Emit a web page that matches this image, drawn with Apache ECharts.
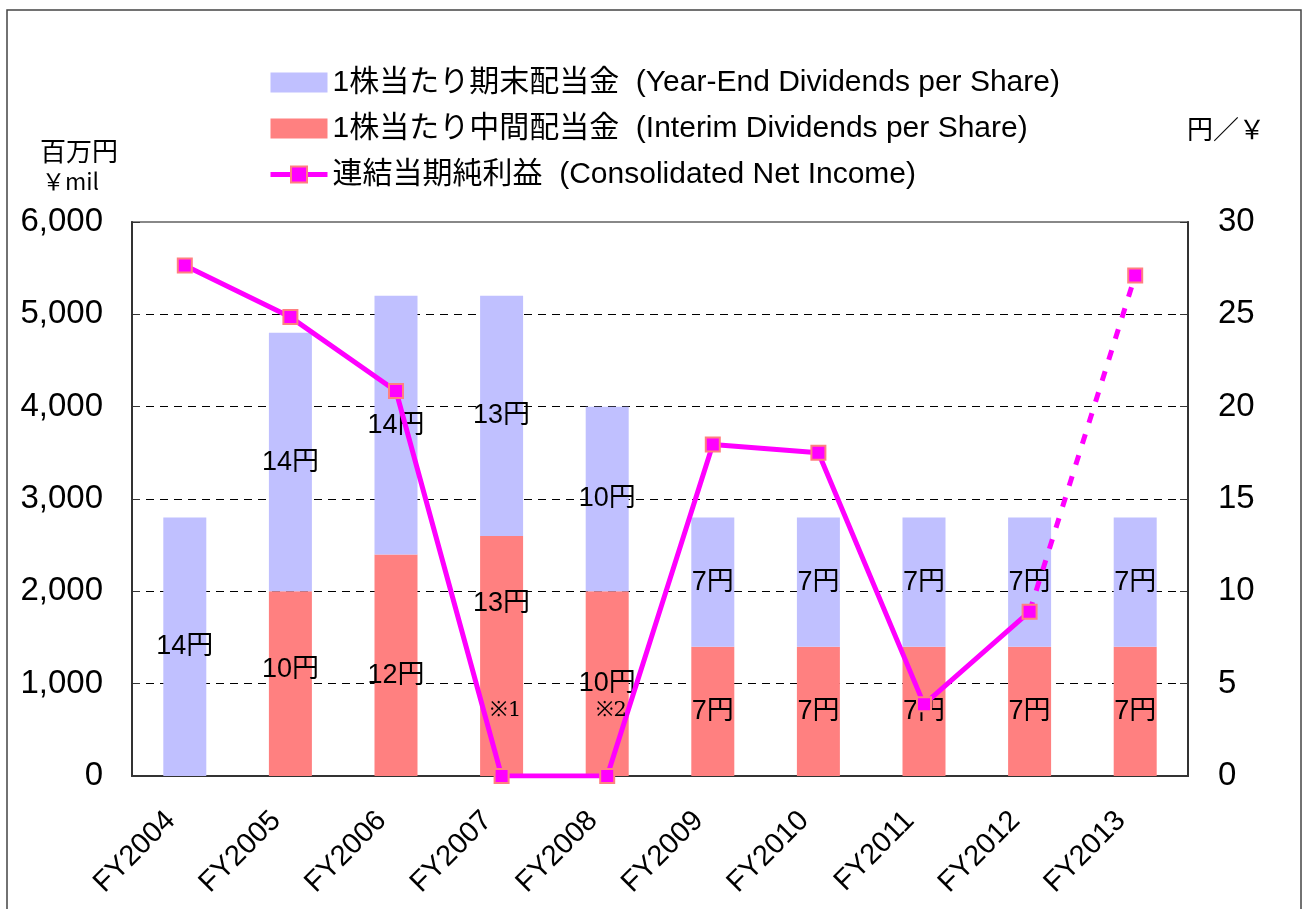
<!DOCTYPE html>
<html>
<head>
<meta charset="utf-8">
<script src="https://cdn.jsdelivr.net/npm/echarts@6/dist/echarts.min.js"></script>
<style>
  html, body { margin: 0; padding: 0; background: #fff; }
  #chart { width: 1304px; height: 909px; }
</style>
</head>
<body>
<div id="chart"></div>
<script>
const years = ["FY2004", "FY2005", "FY2006", "FY2007", "FY2008", "FY2009", "FY2010", "FY2011", "FY2012", "FY2013"];
// yen per share
const interimDiv = ["-", 10, 12, 13, 10, 7, 7, 7, 7, 7];
const yearEndDiv = [14, 14, 14, 13, 10, 7, 7, 7, 7, 7];
// million yen
const netIncome = [5530, 4970, 4170, 0, 0, 3590, 3500, 776, 1780, "-"];
const forecastIncome = ["-", "-", "-", "-", "-", "-", "-", "-", 1780, 5420];
const notes = ["", "", "", "※1", "※2", "", "", "", "", ""];
const leftTicks = [0, 1000, 2000, 3000, 4000, 5000, 6000];
const rightTicks = [0, 5, 10, 15, 20, 25, 30];

// small vertical nudges of some interim labels, as in the original
const interimLabelShift = [0, -14, 10, -52, 0, 0, 0, 0, 0, 0];

const nameYearEnd = "1株当たり期末配当金  (Year-End Dividends per Share)";
const nameInterim = "1株当たり中間配当金  (Interim Dividends per Share)";
const nameIncome = "連結当期純利益  (Consolidated Net Income)";

const FONT = '"Liberation Sans", "Noto Sans CJK JP", sans-serif';

const chart = echarts.init(document.getElementById("chart"));

const barLabel = {
  show: true,
  position: "inside",
  color: "#000",
  fontSize: 27,
  fontFamily: FONT,
  formatter: (p) => (p.value === "-" || p.value == null ? "" : p.value + "円"),
};

chart.setOption({
  backgroundColor: "#fff",
  animation: false,
  textStyle: { fontFamily: FONT },
  graphic: [
    {
      type: "rect",
      shape: { x: 7, y: 10, width: 1294, height: 940 },
      style: { fill: "none", stroke: "#444", lineWidth: 1.5 },
      silent: true,
    },
    {
      type: "text",
      left: 40,
      top: 138,
      style: { text: "百万円", font: '26px "Noto Sans CJK JP"', fill: "#000" },
    },
    {
      type: "text",
      left: 42,
      top: 170,
      style: { text: "￥mil", font: '23px "Noto Sans CJK JP"', fill: "#000" },
    },
    {
      type: "text",
      left: 1187,
      top: 116,
      style: { text: "円／￥", font: '26px "Noto Sans CJK JP"', fill: "#000" },
    },
  ],
  legend: {
    data: [
      { name: nameYearEnd, icon: "rect" },
      { name: nameInterim, icon: "rect" },
      { name: nameIncome },
    ],
    orient: "vertical",
    left: 263,
    top: 62,
    itemWidth: 57,
    itemHeight: 20,
    itemGap: 15,
    lineStyle: { width: 5 },
    textStyle: { fontSize: 30, color: "#000", fontFamily: FONT, lineHeight: 31 },
  },
  grid: {
    left: 132,
    right: 116,
    top: 222,
    bottom: 133,
    show: true,
    borderColor: "#888",
    borderWidth: 2,
  },
  xAxis: {
    type: "category",
    data: years,
    axisLine: { lineStyle: { color: "#333", width: 2 } },
    axisTick: { inside: true, length: 8, lineStyle: { color: "#333" } },
    axisLabel: {
      rotate: 45,
      fontSize: 29,
      color: "#000",
      margin: 26,
      padding: [0, 20, 0, 0],
      fontFamily: FONT,
    },
  },
  yAxis: [
    {
      type: "value",
      min: leftTicks[0],
      max: leftTicks[leftTicks.length - 1],
      interval: 1000,
      axisLine: { show: true, lineStyle: { color: "#333", width: 2 } },
      axisTick: { show: true, inside: true, length: 8, lineStyle: { color: "#333" } },
      axisLabel: {
        fontSize: 33,
        color: "#000",
        margin: 29,
        fontFamily: FONT,
        formatter: (v) => v.toLocaleString("en-US"),
      },
      splitLine: {
        show: true,
        showMaxLine: false,
        lineStyle: { color: "#000", type: [8, 6], width: 1 },
      },
    },
    {
      type: "value",
      min: rightTicks[0],
      max: rightTicks[rightTicks.length - 1],
      interval: 5,
      position: "right",
      axisLine: { show: true, lineStyle: { color: "#333", width: 2 } },
      axisTick: { show: true, inside: true, length: 8, lineStyle: { color: "#333" } },
      axisLabel: { fontSize: 33, color: "#000", margin: 30, fontFamily: FONT },
      splitLine: { show: false },
    },
  ],
  series: [
    {
      name: nameInterim,
      type: "bar",
      stack: "div",
      yAxisIndex: 1,
      barWidth: 43,
      itemStyle: { color: "#FF8080" },
      data: interimDiv.map((v, i) => ({
        value: v,
        label: { offset: [0, interimLabelShift[i]] },
      })),
      label: barLabel,
      z: 2,
    },
    {
      name: nameYearEnd,
      type: "bar",
      stack: "div",
      yAxisIndex: 1,
      barWidth: 43,
      itemStyle: { color: "#C0C0FF" },
      data: yearEndDiv,
      label: barLabel,
      z: 2,
    },
    {
      name: nameIncome,
      type: "line",
      yAxisIndex: 0,
      data: netIncome.map((v, i) => ({
        value: v,
        label: {
          show: notes[i] !== "",
          formatter: notes[i],
          position: "top",
          offset: [4, -42],
          fontSize: 21,
          fontFamily: '"DejaVu Serif", serif',
          color: "#000",
        },
      })),
      symbol: "rect",
      symbolSize: 14,
      lineStyle: { color: "#FF00FF", width: 5 },
      itemStyle: { color: "#FF00FF", borderColor: "#FF8080", borderWidth: 2 },
      z: 5,
    },
    {
      name: "forecast",
      type: "line",
      yAxisIndex: 0,
      data: forecastIncome.map((v, i) => ({
        value: v,
        symbol: i === forecastIncome.length - 1 ? "rect" : "none",
      })),
      symbolSize: 14,
      lineStyle: { color: "#FF00FF", width: 5, type: [10, 12] },
      itemStyle: { color: "#FF00FF", borderColor: "#FF8080", borderWidth: 2 },
      z: 4,
    },
  ],
});
</script>
</body>
</html>
